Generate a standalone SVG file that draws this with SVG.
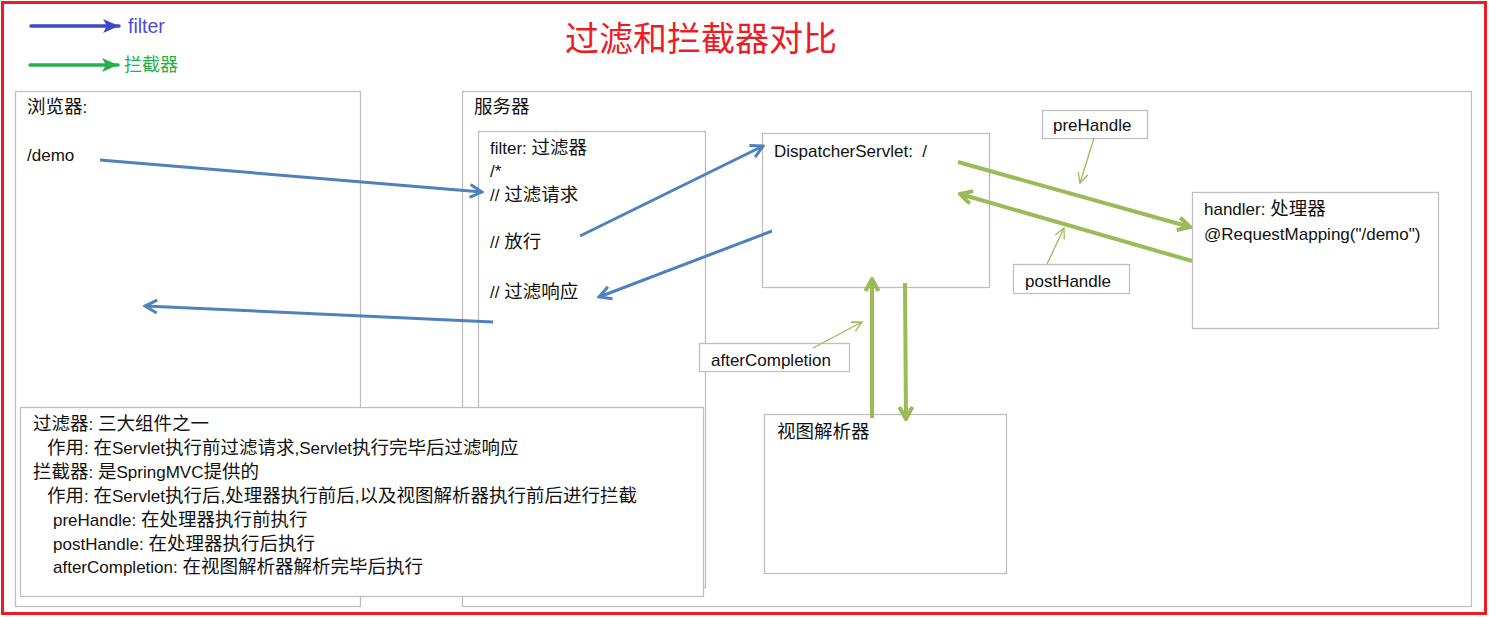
<svg xmlns="http://www.w3.org/2000/svg" width="1489" height="617" viewBox="0 0 1489 617">
<style>
text{font-family:"Liberation Sans","Noto Sans CJK SC",sans-serif;font-size:17px;fill:#111}
.c{font-size:18.5px}
.box{fill:#fff;stroke:#bfbfbf;stroke-width:1.3}
.blue{stroke:#4f81bd;stroke-width:3;fill:none;marker-end:url(#bh)}
.green{stroke:#9bbb59;stroke-width:4;fill:none;marker-end:url(#gh)}
.thin{stroke:#9bbb59;stroke-width:1.3;fill:none;marker-end:url(#th)}
</style>
<defs>
<marker id="bh" markerUnits="userSpaceOnUse" viewBox="-14 -8 16 16" markerWidth="16" markerHeight="16" refX="0" refY="0" orient="auto"><path d="M-12,-6.5 L0,0 L-12,6.5" fill="none" stroke="#4f81bd" stroke-width="3" stroke-linejoin="miter"/></marker>
<marker id="gh" markerUnits="userSpaceOnUse" viewBox="-14 -8 16 16" markerWidth="16" markerHeight="16" refX="0" refY="0" orient="auto"><path d="M-12,-6.5 L0,0 L-12,6.5" fill="none" stroke="#9bbb59" stroke-width="4"/></marker>
<marker id="th" markerUnits="userSpaceOnUse" viewBox="-12 -7 14 14" markerWidth="14" markerHeight="14" refX="0" refY="0" orient="auto"><path d="M-10,-5 L0,0 L-10,5" fill="none" stroke="#9bbb59" stroke-width="1.3"/></marker>
<marker id="lb" markerUnits="userSpaceOnUse" viewBox="-16 -8 18 16" markerWidth="18" markerHeight="16" refX="0" refY="0" orient="auto"><path d="M-16,-7 L0,0 L-16,7 L-12,0 Z" fill="#3f48cc"/></marker>
<marker id="lg" markerUnits="userSpaceOnUse" viewBox="-16 -8 18 16" markerWidth="18" markerHeight="16" refX="0" refY="0" orient="auto"><path d="M-16,-7 L0,0 L-16,7 L-12,0 Z" fill="#22b14c"/></marker>
</defs>
<rect x="0" y="0" width="1489" height="617" fill="#fff"/>
<rect x="2.5" y="2.5" width="1483" height="611" fill="none" stroke="#ed1c24" stroke-width="3"/>
<g id="legend">
<line x1="31" y1="26" x2="119" y2="26" stroke="#3f48cc" stroke-width="3.5" stroke-linecap="round" marker-end="url(#lb)"/>
<text x="128" y="33" style="fill:#4b4bdb;font-size:19.5px">filter</text>
<line x1="30" y1="65" x2="118" y2="65" stroke="#22b14c" stroke-width="3.5" stroke-linecap="round" marker-end="url(#lg)"/>
<text x="124" y="71" style="fill:#22b14c;font-size:18px">拦截器</text>
</g>
<text id="title" x="701" y="51" text-anchor="middle" style="fill:#ed1c24;font-size:34px">过滤和拦截器对比</text>
<g id="browser">
<rect class="box" x="15.5" y="91.5" width="345" height="515"/>
<text x="27" y="113"><tspan class="c">浏览器</tspan>:</text>
<text x="27" y="161">/demo</text>
</g>
<g id="server">
<rect class="box" x="462.5" y="91.5" width="1009" height="515"/>
<text x="474" y="113" class="c">服务器</text>
</g>
<g id="filter">
<rect class="box" x="478.5" y="131.5" width="227" height="456"/>
<text x="490" y="154">filter: <tspan class="c">过滤器</tspan></text>
<text x="490" y="177">/*</text>
<text x="490" y="201">// <tspan class="c">过滤请求</tspan></text>
<text x="490" y="248">// <tspan class="c">放行</tspan></text>
<text x="490" y="298">// <tspan class="c">过滤响应</tspan></text>
</g>
<g id="dispatcher">
<rect class="box" x="762.5" y="133.5" width="227" height="154"/>
<text x="774" y="157" xml:space="preserve">DispatcherServlet:  /</text>
</g>
<g id="handler">
<rect class="box" x="1192.5" y="192.5" width="246" height="136"/>
<text x="1204" y="215">handler: <tspan class="c">处理器</tspan></text>
<text x="1204" y="240">@RequestMapping("/demo")</text>
</g>
<g id="viewresolver">
<rect class="box" x="764.5" y="414.5" width="242" height="159"/>
<text x="777" y="438" class="c">视图解析器</text>
</g>
<g id="prehandle-label">
<rect class="box" x="1042.5" y="110.5" width="105" height="28"/>
<text x="1053" y="131">preHandle</text>
</g>
<g id="posthandle-label">
<rect class="box" x="1013.5" y="264.5" width="116" height="29"/>
<text x="1025" y="287">postHandle</text>
</g>
<g id="aftercompletion-label">
<rect class="box" x="699.5" y="343.5" width="150" height="28"/>
<text x="711" y="366">afterCompletion</text>
</g>
<g id="description">
<rect class="box" x="20.5" y="407.5" width="683" height="189"/>
<text x="33" y="430"><tspan class="c">过滤器</tspan>: <tspan class="c">三大组件之一</tspan></text>
<text x="47" y="454"><tspan class="c">作用</tspan>: <tspan class="c">在</tspan>Servlet<tspan class="c">执行前过滤请求</tspan>,Servlet<tspan class="c">执行完毕后过滤响应</tspan></text>
<text x="33" y="478"><tspan class="c">拦截器</tspan>: <tspan class="c">是</tspan>SpringMVC<tspan class="c">提供的</tspan></text>
<text x="47" y="502"><tspan class="c">作用</tspan>: <tspan class="c">在</tspan>Servlet<tspan class="c">执行后</tspan>,<tspan class="c">处理器执行前后</tspan>,<tspan class="c">以及视图解析器执行前后进行拦截</tspan></text>
<text x="53" y="526">preHandle: <tspan class="c">在处理器执行前执行</tspan></text>
<text x="53" y="550">postHandle: <tspan class="c">在处理器执行后执行</tspan></text>
<text x="53" y="573">afterCompletion: <tspan class="c">在视图解析器解析完毕后执行</tspan></text>
</g>
<g id="connectors">
<line class="blue" x1="100" y1="160" x2="482" y2="192"/>
<line class="blue" x1="580" y1="236" x2="763" y2="146"/>
<line class="blue" x1="772" y1="231" x2="599" y2="297"/>
<line class="blue" x1="493" y1="322" x2="145" y2="306"/>
<line class="green" x1="958" y1="162" x2="1190" y2="227"/>
<line class="green" x1="1192" y1="261" x2="960" y2="194"/>
<line class="green" x1="872" y1="418" x2="872" y2="279"/>
<line class="green" x1="905" y1="283" x2="906" y2="419"/>
<line class="thin" x1="1094" y1="138" x2="1080" y2="183"/>
<line class="thin" x1="1047" y1="264" x2="1064" y2="228"/>
<line class="thin" x1="813" y1="348" x2="862" y2="322"/>
</g>
</svg>
